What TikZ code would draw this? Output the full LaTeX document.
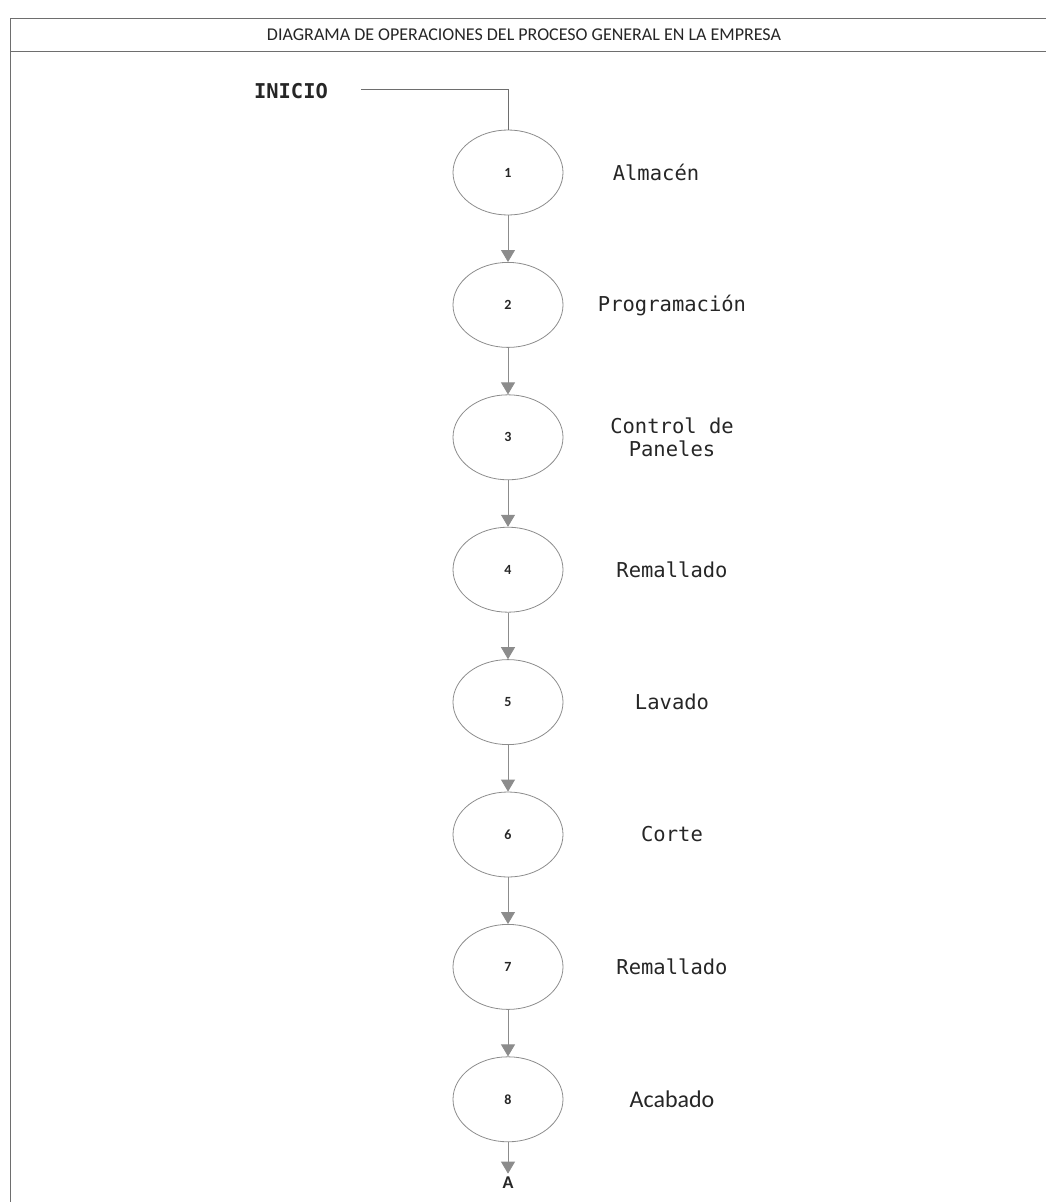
\documentclass[tikz,border=0pt]{standalone}
\usepackage{fontspec}
\setmainfont{Carlito}
\newfontfamily\monofont{DejaVu Sans Mono}
\usetikzlibrary{shapes.geometric,arrows.meta,positioning}
\definecolor{linegray}{HTML}{8C8C8C}
\definecolor{framegray}{HTML}{6E6E6E}
\definecolor{textdark}{HTML}{262626}
\tikzset{
  opstep/.style={ellipse,draw=linegray,thick,minimum width=110pt,minimum height=85pt,inner sep=0pt,font=\fontsize{14}{14}\selectfont\bfseries,text=textdark},
  oplabel/.style={font=\monofont\fontsize{20.5}{23}\selectfont,text=textdark,align=center},
  flow/.style={-{Triangle[width=14pt,length=12pt]},draw=linegray,thick,color=linegray}
}
\begin{document}
\begin{tikzpicture}[x=1pt,y=-1pt]
    \useasboundingbox (0,0) rectangle (1046,1202);
    % marco y titulo
    \draw[framegray,thick] (1050,18) -- (10,18) -- (10,1210);
    \draw[framegray,thick] (10,51) -- (1050,51);
    \node[font=\fontsize{18}{20}\selectfont,text=textdark] (title) at (524,34.5) {DIAGRAMA DE OPERACIONES DEL PROCESO GENERAL EN LA EMPRESA};

    \node[font=\monofont\bfseries\fontsize{20.4}{22}\selectfont,text=textdark] (inicio) at (291,91) {INICIO};
    \coordinate (corner) at (508,89);
    \coordinate (start) at (361,89);

    \foreach \n in {1,...,8}
        \node[opstep] (c\n) at (508,{172.5+132.4*(\n-1)}) {\n};

    \node[oplabel] (l1) at (656,172) {Almacén};
    \node[oplabel] (l2) at (672,305) {Programación};
    \node[oplabel] (l3) at (672,437) {Control de\\Paneles};
    \node[oplabel] (l4) at (672,570) {Remallado};
    \node[oplabel] (l5) at (672,702) {Lavado};
    \node[oplabel] (l6) at (672,834) {Corte};
    \node[oplabel] (l7) at (672,967) {Remallado};
    \node[font=\fontsize{24}{26}\selectfont,text=textdark] (l8) at (672,1099) {Acabado};

    \node[font=\fontsize{18}{20}\selectfont\bfseries,text=textdark] (fin) at (508,1183) {A};

    \draw[framegray,thick] (start) -- (corner) -- (c1.north);
    \foreach \a/\b in {1/2,2/3,3/4,4/5,5/6,6/7,7/8}
        \draw[flow] (c\a) -- (c\b);
    \draw[flow] (c8) -- (fin);
\end{tikzpicture}
\end{document}
